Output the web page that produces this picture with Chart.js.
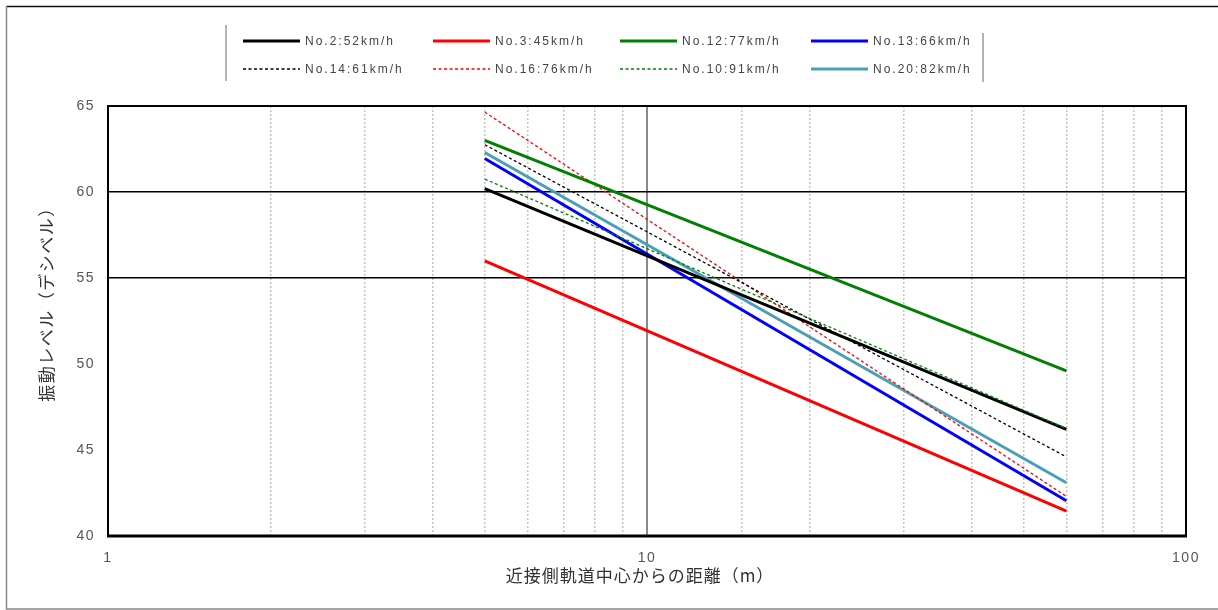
<!DOCTYPE html>
<html lang="ja">
<head>
<meta charset="utf-8">
<title>振動レベルと距離</title>
<script src="https://cdn.jsdelivr.net/npm/chart.js@4.4.1/dist/chart.umd.min.js"></script>
<style>
  html, body { margin: 0; padding: 0; background: #fff; }
  #wrap { width: 1218px; height: 610px; position: relative; }
  canvas { display: block; }
</style>
</head>
<body>
<div id="wrap"><canvas id="chart" width="1218" height="610"></canvas></div>
<script>
// Distance from the near-side track centre (m): start and end of each regression line
const distances = [5, 60];

// Vibration level (dB) at each distance, one array per train
const no2_52 = [60.2, 46.2];
const no3_45 = [56.0, 41.45];
const no12_77 = [63.0, 49.6];
const no13_66 = [61.95, 42.05];
const no14_61 = [62.75, 44.6];
const no16_76 = [64.65, 42.3];
const no10_91 = [60.75, 46.25];
const no20_82 = [62.3, 43.1];

const seriesLabels = [
  'No.2:52km/h', 'No.3:45km/h', 'No.12:77km/h', 'No.13:66km/h',
  'No.14:61km/h', 'No.16:76km/h', 'No.10:91km/h', 'No.20:82km/h'
];
const seriesValues = [no2_52, no3_45, no12_77, no13_66, no14_61, no16_76, no10_91, no20_82];

const xTickLabels = [1, 10, 100];
const yTickValues = [40, 45, 50, 55, 60, 65];
const yGridValues = [55, 60];

const xTitle = '近接側軌道中心からの距離（m）';
const yTitle = '振動レベル（デシベル）';

const styles = [
  { color: '#000000', width: 3, dash: [] },
  { color: '#ff0000', width: 3, dash: [] },
  { color: '#008000', width: 3, dash: [] },
  { color: '#0000ff', width: 3, dash: [] },
  { color: '#000000', width: 1.3, dash: [3, 2.5] },
  { color: '#ff0000', width: 1.3, dash: [3, 2.5] },
  { color: '#008000', width: 1.3, dash: [3, 2.5] },
  { color: '#4a9fb8', width: 3, dash: [] }
];

const drawOrder = [2, 7, 4, 3, 5, 6, 1, 8];

const datasets = seriesLabels.map((label, i) => ({
  label,
  data: distances.map((d, k) => ({ x: d, y: seriesValues[i][k] })),
  borderColor: styles[i].color,
  backgroundColor: styles[i].color,
  borderWidth: styles[i].width,
  borderDash: styles[i].dash,
  pointRadius: 0,
  tension: 0,
  fill: false,
  order: drawOrder[i]
}));

const SANS = '"Liberation Sans", Arial, sans-serif';
const JP = '"Noto Sans CJK JP", "Noto Sans", sans-serif';

// Frames, legend and axis titles
const decor = {
  id: 'decor',
  beforeDraw(chart) {
    chart.ctx.letterSpacing = '1.5px';
  },
  beforeDatasetsDraw(chart) {
    const c = chart.ctx;
    const a = chart.chartArea;
    c.save();
    c.strokeStyle = '#000';
    c.lineWidth = 2;
    c.beginPath();
    c.moveTo(a.left, a.bottom); c.lineTo(a.left, a.top); c.lineTo(a.right, a.top); c.lineTo(a.right, a.bottom);
    c.stroke();
    c.lineWidth = 3;
    c.beginPath();
    c.moveTo(a.left - 1, a.bottom); c.lineTo(a.right + 1, a.bottom);
    c.stroke();
    c.restore();
  },
  afterDraw(chart) {
    const c = chart.ctx;
    c.save();
    // outer frame
    c.lineWidth = 1.5;
    c.strokeStyle = '#111';
    c.beginPath(); c.moveTo(6, 6.5); c.lineTo(1218, 6.5); c.stroke();
    c.strokeStyle = '#888';
    c.beginPath(); c.moveTo(6.5, 6); c.lineTo(6.5, 609); c.lineTo(1218, 609); c.stroke();

    // legend box sides
    c.strokeStyle = '#999';
    c.lineWidth = 1.5;
    c.beginPath(); c.moveTo(226, 25); c.lineTo(226, 81); c.stroke();
    c.beginPath(); c.moveTo(983, 33); c.lineTo(983, 82); c.stroke();

    // legend entries
    const colX = [243, 433, 620, 811];
    const rowY = [41, 69];
    c.letterSpacing = '2px';
    c.font = '12px ' + SANS;
    c.textBaseline = 'middle';
    c.textAlign = 'left';
    chart.data.datasets.forEach((ds, i) => {
      const x = colX[i % 4];
      const y = rowY[Math.floor(i / 4)];
      c.strokeStyle = ds.borderColor;
      c.lineWidth = ds.borderWidth;
      c.setLineDash(ds.borderDash);
      c.beginPath(); c.moveTo(x, y); c.lineTo(x + 57, y); c.stroke();
      c.setLineDash([]);
      c.fillStyle = '#444';
      c.fillText(ds.label, x + 62, y + 1);
    });

    // axis titles
    c.fillStyle = '#333';
    c.textAlign = 'center';
    c.letterSpacing = '1px';
    c.font = '17px ' + JP;
    c.fillText(xTitle, 640, 576);
    c.translate(47, 300);
    c.rotate(-Math.PI / 2);
    c.letterSpacing = '1.5px';
    c.font = '17px ' + JP;
    c.fillText(yTitle, 0, 0);
    c.restore();
  }
};

new Chart(document.getElementById('chart'), {
  type: 'line',
  data: { datasets },
  options: {
    responsive: false,
    animation: false,
    layout: { padding: { top: 106, right: 32, left: 0, bottom: 0 } },
    plugins: {
      legend: { display: false },
      tooltip: { enabled: false }
    },
    scales: {
      x: {
        type: 'logarithmic',
        position: 'bottom',
        min: 1,
        max: 100,
        afterFit(scale) { scale.height = 74; },
        ticks: {
          autoSkip: false,
          maxRotation: 0,
          padding: 14,
          color: '#555',
          font: { family: SANS, size: 14 },
          callback: (v) => xTickLabels.includes(v) ? String(v) : ''
        },
        grid: {
          drawTicks: false,
          color: (ctx) => {
            const v = ctx.tick ? ctx.tick.value : null;
            if (v === 1 || v === 100) return 'rgba(0,0,0,0)';
            if (v === 10) return '#8a8a8a';
            return '#c4c4c4';
          },
          lineWidth: (ctx) => (ctx.tick && ctx.tick.value === 10) ? 2 : 1.5
        },
        border: {
          display: false,
          dash: (ctx) => {
            if (!ctx.tick) return [];
            return (ctx.tick.value === 10) ? [] : [2, 2];
          }
        }
      },
      y: {
        type: 'linear',
        min: 40,
        max: 65,
        afterFit(scale) { scale.width = 108; },
        afterBuildTicks(scale) { scale.ticks = yTickValues.map(v => ({ value: v })); },
        ticks: {
          padding: 13,
          color: '#555',
          font: { family: SANS, size: 14 }
        },
        grid: {
          drawTicks: false,
          color: (ctx) => (ctx.tick && yGridValues.includes(ctx.tick.value)) ? '#000' : 'rgba(0,0,0,0)',
          lineWidth: 1.5
        },
        border: { display: false }
      }
    }
  },
  plugins: [decor]
});
</script>
</body>
</html>
